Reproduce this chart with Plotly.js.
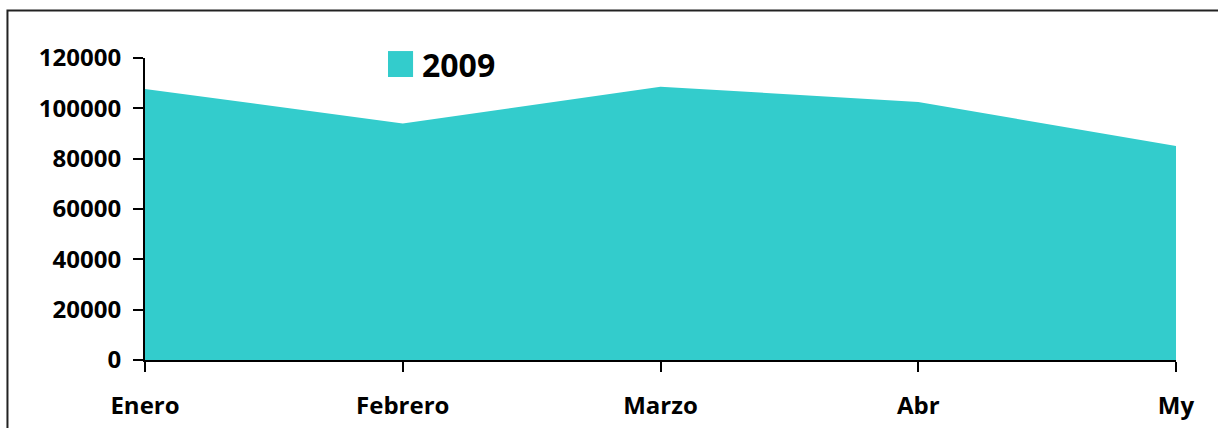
<!DOCTYPE html>
<html>
<head>
<meta charset="utf-8">
<script src="https://cdn.plot.ly/plotly-3.0.1.min.js"></script>
<style>
  html, body { margin: 0; padding: 0; background: #ffffff; }
  #chart { width: 1218px; height: 428px; }
</style>
</head>
<body>
<div id="chart"></div>
<script>
// Data
var months = ['Enero', 'Febrero', 'Marzo', 'Abr', 'My'];
var values2009 = [107700, 94000, 108600, 102500, 85000];
var seriesName = '2009';
var yTicks = [0, 20000, 40000, 60000, 80000, 100000, 120000];

var fillColor = '#33CCCC';
var fontFamily = '"Open Sans", "DejaVu Sans", sans-serif';

var trace = {
  type: 'scatter',
  mode: 'lines',
  x: months,
  y: values2009,
  name: seriesName,
  fill: 'tozeroy',
  fillcolor: fillColor,
  line: { width: 0, color: fillColor },
  showlegend: false,
  hoverinfo: 'x+y'
};

var layout = {
  width: 1218,
  height: 428,
  margin: { l: 145, r: 42, t: 58, b: 68 },
  paper_bgcolor: '#ffffff',
  plot_bgcolor: '#ffffff',
  showlegend: false,
  font: { family: fontFamily, color: '#000000' },
  xaxis: {
    type: 'category',
    range: [0, months.length - 1],
    showgrid: false,
    zeroline: false,
    showline: true,
    linecolor: '#000000',
    linewidth: 2,
    ticks: 'outside',
    ticklen: 10,
    tickwidth: 2,
    tickcolor: '#000000',
    ticklabelstandoff: 13,
    tickfont: { family: fontFamily, size: 24, color: '#000000', weight: 'bold' }
  },
  yaxis: {
    range: [0, 120000],
    tickmode: 'array',
    tickvals: yTicks,
    ticktext: yTicks.map(String),
    showgrid: false,
    zeroline: false,
    showline: true,
    linecolor: '#000000',
    linewidth: 2,
    ticks: 'outside',
    ticklen: 10,
    tickwidth: 2,
    tickcolor: '#000000',
    ticklabelstandoff: 7,
    tickfont: { family: fontFamily, size: 24, color: '#000000', weight: 'bold' }
  },
  shapes: [
    // chart frame (left and top edges)
    {
      type: 'path', xref: 'paper', yref: 'paper',
      path: 'M -0.1334,-0.3 L -0.1334,1.157 L 1.1,1.157',
      line: { color: '#222222', width: 2 }
    },
    // legend swatch
    {
      type: 'rect', xref: 'paper', yref: 'paper',
      x0: 0.2357, x1: 0.2600, y0: 0.937, y1: 1.023,
      fillcolor: fillColor, line: { width: 0 }
    }
  ],
  annotations: [
    {
      xref: 'paper', yref: 'paper',
      x: 0.2667, y: 0.980,
      xanchor: 'left', yanchor: 'middle',
      text: '<b>' + seriesName + '</b>',
      showarrow: false,
      font: { family: fontFamily, size: 32, color: '#000000' }
    }
  ]
};

Plotly.newPlot('chart', [trace], layout, { displayModeBar: false, staticPlot: true });
</script>
</body>
</html>
